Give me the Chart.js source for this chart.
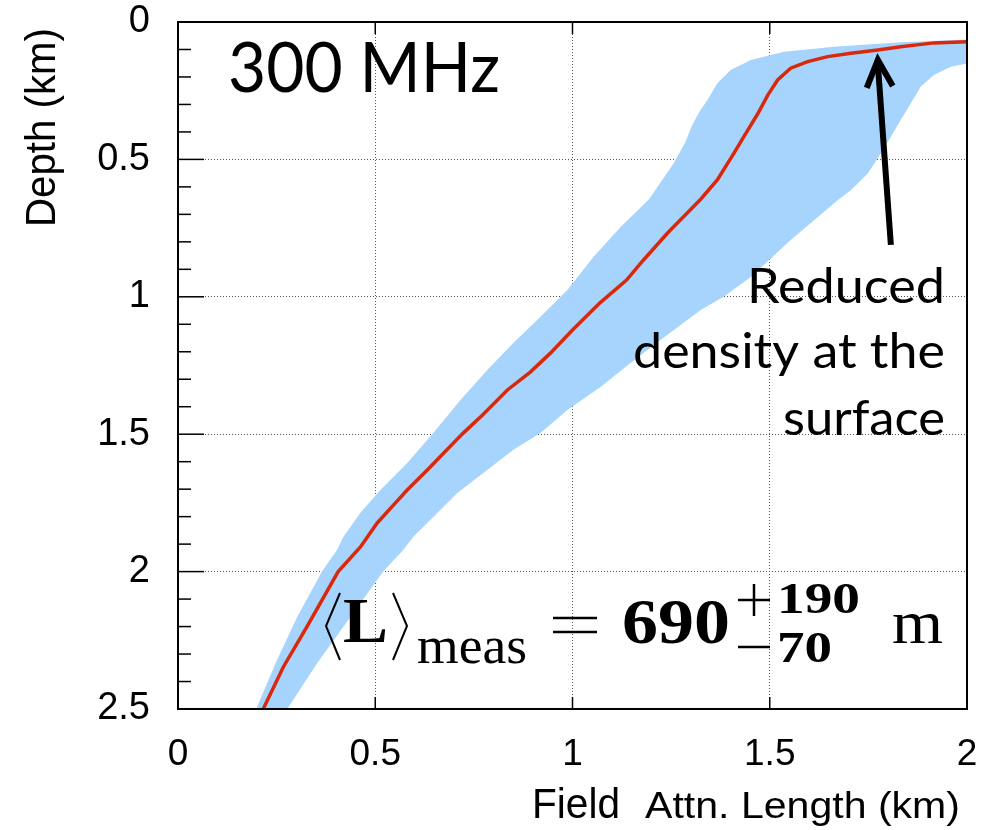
<!DOCTYPE html>
<html>
<head>
<meta charset="utf-8">
<script src="https://cdn.jsdelivr.net/npm/chart.js@4.4.0/dist/chart.umd.min.js"></script>
<style>
  html, body { margin: 0; padding: 0; background: #fff; }
  #wrap { width: 993px; height: 830px; }
</style>
</head>
<body>
<div id="wrap"><canvas id="c" width="993" height="830"></canvas></div>
<script>
// median field attenuation length (km) against depth (km), surface first
var medianAtt = [2.004, 1.916, 1.832, 1.774, 1.706, 1.647, 1.596, 1.553, 1.520, 1.495, 1.470, 1.434, 1.409, 1.367,
  1.325, 1.241, 1.180, 1.137, 1.069, 1.000, 0.944, 0.893, 0.835, 0.772, 0.723, 0.673, 0.632, 0.581, 0.546,
  0.505, 0.462, 0.406, 0.327, 0.267, 0.216];
var medianDepth = [0.072, 0.076, 0.090, 0.102, 0.114, 0.126, 0.144, 0.168, 0.211, 0.266, 0.333, 0.418, 0.478, 0.575,
  0.645, 0.768, 0.866, 0.939, 1.023, 1.121, 1.205, 1.274, 1.339, 1.430, 1.496, 1.569, 1.630, 1.703, 1.758,
  1.823, 1.911, 2.000, 2.200, 2.347, 2.500];

// uncertainty band, short-length edge (surface first)
var bandLoAtt = [2.004, 1.832, 1.663, 1.536, 1.452, 1.401, 1.367, 1.342, 1.320, 1.302, 1.285, 1.257, 1.194,
  1.122, 1.053, 0.987, 0.919, 0.850, 0.784, 0.716, 0.647, 0.581, 0.513, 0.462, 0.419, 0.403, 0.365,
  0.302, 0.251, 0.198];
var bandLoDepth = [0.063, 0.074, 0.090, 0.108, 0.138, 0.175, 0.223, 0.284, 0.330, 0.380, 0.440, 0.513, 0.645,
  0.746, 0.855, 0.975, 1.073, 1.168, 1.266, 1.376, 1.496, 1.605, 1.703, 1.787, 1.874, 1.921, 2.000,
  2.165, 2.322, 2.500];

// uncertainty band, long-length edge (surface first)
var bandHiAtt = [2.004, 1.959, 1.916, 1.883, 1.858, 1.832, 1.807, 1.782, 1.749, 1.706, 1.673, 1.553,
  1.452, 1.383, 1.325, 1.223, 1.147, 1.071, 0.987, 0.919, 0.850, 0.774, 0.708, 0.647, 0.596, 0.571,
  0.520, 0.437, 0.353, 0.277];
var bandHiDepth = [0.150, 0.163, 0.193, 0.235, 0.295, 0.357, 0.418, 0.477, 0.550, 0.611, 0.648, 0.793,
  0.928, 1.000, 1.048, 1.157, 1.241, 1.328, 1.412, 1.496, 1.557, 1.641, 1.714, 1.801, 1.874, 1.921,
  2.000, 2.165, 2.333, 2.500];

var xTicks = [0, 0.5, 1, 1.5, 2];
var yTicks = [0, 0.5, 1, 1.5, 2, 2.5];

function pts(xs, ys) {
  return xs.map(function(x, i) { return {x: x, y: ys[i]}; });
}

// closed outline of the band: one edge down, the other back up
var bandOutline = pts(bandLoAtt, bandLoDepth).concat(pts(bandHiAtt, bandHiDepth).reverse());

// draw text squeezed/stretched to a given width
function fitText(ctx, text, x, y, width, font) {
  ctx.save();
  ctx.font = font;
  var w = ctx.measureText(text).width;
  ctx.translate(x, y);
  ctx.scale(width / w, 1);
  ctx.textAlign = 'left';
  ctx.textBaseline = 'alphabetic';
  ctx.fillText(text, 0, 0);
  ctx.restore();
}

var framePlugin = {
  id: 'frame',
  afterDraw: function(chart) {
    var ctx = chart.ctx, a = chart.chartArea;
    var xs = chart.scales.x, ys = chart.scales.y;
    ctx.save();
    ctx.strokeStyle = '#000';
    ctx.fillStyle = '#000';

    // frame
    ctx.lineWidth = 2;
    ctx.strokeRect(a.left, a.top, a.right - a.left, a.bottom - a.top);

    // y ticks, major + 4 minor per step
    ctx.lineWidth = 1.5;
    for (var i = 0; i < yTicks.length; i++) {
      var py = ys.getPixelForValue(yTicks[i]);
      ctx.beginPath(); ctx.moveTo(a.left, py); ctx.lineTo(a.left + 26, py); ctx.stroke();
      if (i < yTicks.length - 1) {
        var step = (yTicks[i + 1] - yTicks[i]) / 5;
        for (var k = 1; k < 5; k++) {
          var pm = ys.getPixelForValue(yTicks[i] + k * step);
          ctx.beginPath(); ctx.moveTo(a.left, pm); ctx.lineTo(a.left + 13, pm); ctx.stroke();
        }
      }
    }
    // x ticks, bottom and top
    for (var j = 1; j < xTicks.length - 1; j++) {
      var px = xs.getPixelForValue(xTicks[j]);
      ctx.beginPath(); ctx.moveTo(px, a.bottom); ctx.lineTo(px, a.bottom - 12); ctx.stroke();
      ctx.beginPath(); ctx.moveTo(px, a.top); ctx.lineTo(px, a.top + 12); ctx.stroke();
    }

    // frequency label
    fitText(ctx, '300 MHz', 228, 92, 272, '70px Lato');

    // arrow to the near-surface part of the curve
    var tx = xs.getPixelForValue(1.774), ty = ys.getPixelForValue(0.138);
    var bx = xs.getPixelForValue(1.807), by = ys.getPixelForValue(0.811);
    ctx.lineWidth = 6;
    ctx.lineCap = 'butt';
    ctx.beginPath(); ctx.moveTo(bx, by); ctx.lineTo(tx, ty + 4); ctx.stroke();
    var ang = Math.atan2(by - ty, bx - tx);
    var len = 30, spread = 0.45;
    ctx.lineJoin = 'miter';
    ctx.beginPath();
    ctx.moveTo(tx + len * Math.cos(ang - spread), ty + len * Math.sin(ang - spread));
    ctx.lineTo(tx, ty);
    ctx.lineTo(tx + len * Math.cos(ang + spread), ty + len * Math.sin(ang + spread));
    ctx.stroke();

    // annotation
    fitText(ctx, 'Reduced', 747, 303, 198, '48px Lato');
    fitText(ctx, 'density at the', 633, 368, 312, '48px Lato');
    fitText(ctx, 'surface', 783, 435, 162, '48px Lato');

    // <L>_meas = 690 +190 -70 m
    ctx.lineWidth = 2;
    ctx.lineJoin = 'miter';
    ctx.beginPath(); ctx.moveTo(340, 593); ctx.lineTo(326, 626); ctx.lineTo(340, 660); ctx.stroke();
    ctx.beginPath(); ctx.moveTo(393, 593); ctx.lineTo(407, 626); ctx.lineTo(393, 660); ctx.stroke();
    fitText(ctx, 'L', 343, 642, 45, 'bold 64px "Liberation Serif"');
    fitText(ctx, 'meas', 417, 663, 110, '52px "Liberation Serif"');
    ctx.lineWidth = 2.5;
    ctx.beginPath(); ctx.moveTo(553, 618); ctx.lineTo(597, 618); ctx.stroke();
    ctx.beginPath(); ctx.moveTo(553, 632); ctx.lineTo(597, 632); ctx.stroke();
    fitText(ctx, '690', 622, 643, 108, 'bold 64px "Liberation Serif"');
    ctx.beginPath(); ctx.moveTo(738, 600); ctx.lineTo(770, 600); ctx.stroke();
    ctx.beginPath(); ctx.moveTo(754, 584); ctx.lineTo(754, 616); ctx.stroke();
    ctx.beginPath(); ctx.moveTo(738, 647); ctx.lineTo(770, 647); ctx.stroke();
    fitText(ctx, '190', 777, 613, 83, 'bold 44px "Liberation Serif"');
    fitText(ctx, '70', 777, 662, 55, 'bold 44px "Liberation Serif"');
    fitText(ctx, 'm', 892, 643, 51, '62px "Liberation Serif"');

    // axis titles
    fitText(ctx, 'Field', 532, 818, 88, '42px "Liberation Sans"');
    fitText(ctx, 'Attn. Length (km)', 645, 818, 315, '36px "Liberation Sans"');
    ctx.save();
    ctx.translate(55, 227);
    ctx.rotate(-Math.PI / 2);
    fitText(ctx, 'Depth (km)', 0, 0, 199, '42px "Liberation Sans"');
    ctx.restore();

    ctx.restore();
  }
};

var ctx = document.getElementById('c');
new Chart(ctx, {
  type: 'scatter',
  data: {
    datasets: [{
      data: pts(medianAtt, medianDepth),
      showLine: true,
      borderColor: '#d9280b',
      borderWidth: 3.5,
      pointRadius: 0,
      tension: 0,
      fill: false,
      order: 0
    }, {
      data: bandOutline,
      showLine: true,
      borderColor: 'rgba(0,0,0,0)',
      borderWidth: 1,
      backgroundColor: '#a6d4fc',
      pointRadius: 0,
      tension: 0,
      fill: 'shape',
      order: 1
    }]
  },
  options: {
    responsive: false,
    animation: false,
    layout: { padding: { top: 22, right: 26, left: 0, bottom: 0 } },
    plugins: {
      legend: { display: false },
      tooltip: { enabled: false }
    },
    scales: {
      x: {
        type: 'linear',
        min: 0, max: 2,
        afterBuildTicks: function(s) { s.ticks = xTicks.map(function(v) { return {value: v}; }); },
        afterFit: function(s) { s.height = 121; s.paddingLeft = 0; s.paddingRight = 0; },
        ticks: {
          padding: 24,
          color: '#000',
          font: { family: '"Liberation Sans", Arial', size: 37 },
          callback: function(v) { return String(v); }
        },
        grid: {
          drawTicks: false,
          lineWidth: 1,
          color: function(c) {
            var v = c.tick ? c.tick.value : 0;
            return (v > 0 && v < 2) ? '#555' : 'rgba(0,0,0,0)';
          }
        },
        border: { display: false, dash: [1, 2] }
      },
      y: {
        type: 'linear',
        reverse: true,
        min: 0, max: 2.5,
        afterBuildTicks: function(s) { s.ticks = yTicks.map(function(v) { return {value: v}; }); },
        afterFit: function(s) { s.width = 178; s.paddingTop = 0; s.paddingBottom = 0; },
        ticks: {
          padding: 28,
          color: '#000',
          font: { family: '"Liberation Sans", Arial', size: 38 },
          callback: function(v) { return String(v); }
        },
        grid: {
          drawTicks: false,
          lineWidth: 1,
          color: function(c) {
            var v = c.tick ? c.tick.value : 0;
            return (v > 0 && v < 2.5) ? '#555' : 'rgba(0,0,0,0)';
          }
        },
        border: { display: false, dash: [1, 2] }
      }
    }
  },
  plugins: [framePlugin]
});
</script>
</body>
</html>
